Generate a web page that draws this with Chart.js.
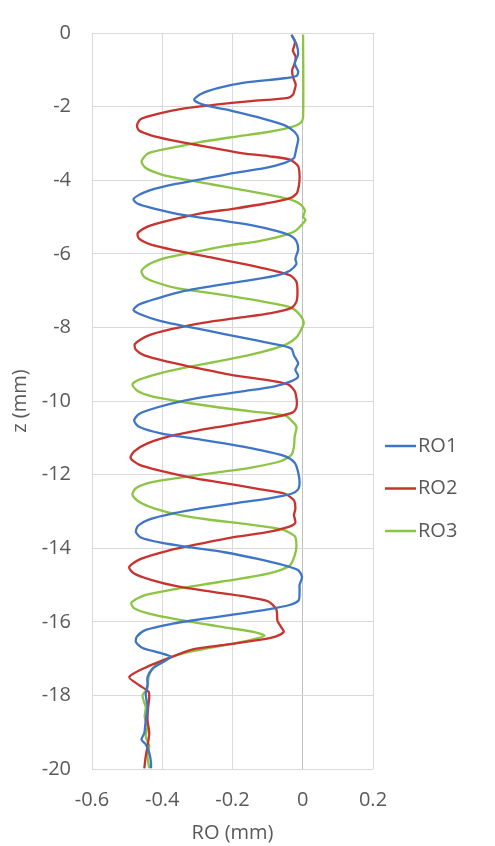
<!DOCTYPE html>
<html>
<head>
<meta charset="utf-8">
<script src="https://cdn.jsdelivr.net/npm/chart.js@4.4.1/dist/chart.umd.min.js"></script>
<style>
  html, body { margin: 0; padding: 0; background: #fff; }
  #wrap { width: 495px; height: 846px; }
</style>
</head>
<body>
<div id="wrap"><canvas id="myChart" width="495" height="846"></canvas></div>
<script>
// series names
var seriesNames = ['RO1', 'RO2', 'RO3'];

// axis ticks
var xTicks = [-0.6, -0.4, -0.2, 0, 0.2];
var yTicks = [0, -2, -4, -6, -8, -10, -12, -14, -16, -18, -20];

// RO1: depth z (mm) and RO (mm)
var ro1Z = [-0.05, -0.30, -0.57, -0.83, -1.05, -1.17, -1.23, -1.35, -1.50, -1.66, -1.81, -1.91, -2.00, -2.07, -2.20, -2.34, -2.51, -2.69, -2.87, -3.13,
  -3.35, -3.40, -3.53, -3.67, -3.80, -3.98, -4.15, -4.33, -4.51, -4.64, -4.77, -4.95, -5.08, -5.22, -5.39, -5.52, -5.66, -5.88, -6.14, -6.28,
  -6.46, -6.58, -6.70, -6.85, -7.01, -7.21, -7.38, -7.52, -7.65, -7.83, -8.00, -8.18, -8.36, -8.49, -8.58, -8.76, -8.98, -9.15, -9.33, -9.46,
  -9.60, -9.73, -9.86, -9.99, -10.17, -10.35, -10.53, -10.70, -10.88, -11.01, -11.15, -11.32, -11.50, -11.68, -11.94, -12.23, -12.40, -12.52, -12.65, -12.78,
  -12.92, -13.05, -13.23, -13.39, -13.56, -13.71, -13.85, -13.98, -14.11, -14.29, -14.47, -14.60, -14.78, -15.00, -15.18, -15.42, -15.55, -15.66, -15.80, -15.93,
  -16.05, -16.22, -16.40, -16.55, -16.71, -16.84, -16.95, -17.10, -17.28, -17.50, -17.70, -17.96, -18.32, -18.67, -19.02, -19.20, -19.33, -19.56, -19.82, -19.98];
var ro1X = [-0.032, -0.018, -0.013, -0.023, -0.013, -0.018, -0.051, -0.166, -0.242, -0.290, -0.309, -0.294, -0.261, -0.223, -0.166, -0.109, -0.051, -0.023, -0.013, -0.018,
  -0.023, -0.025, -0.051, -0.109, -0.194, -0.290, -0.385, -0.451, -0.482, -0.470, -0.423, -0.337, -0.242, -0.147, -0.070, -0.032, -0.018, -0.013, -0.021, -0.018,
  -0.037, -0.070, -0.140, -0.242, -0.337, -0.413, -0.466, -0.482, -0.461, -0.404, -0.318, -0.223, -0.128, -0.061, -0.032, -0.025, -0.013, -0.021, -0.013, -0.032,
  -0.080, -0.166, -0.261, -0.337, -0.413, -0.466, -0.480, -0.466, -0.404, -0.318, -0.223, -0.128, -0.051, -0.023, -0.013, -0.009, -0.013, -0.032, -0.099, -0.194,
  -0.290, -0.366, -0.440, -0.469, -0.475, -0.461, -0.404, -0.318, -0.223, -0.128, -0.051, -0.013, -0.002, -0.009, -0.009, -0.012, -0.040, -0.099, -0.194, -0.290,
  -0.370, -0.447, -0.472, -0.475, -0.456, -0.409, -0.375, -0.399, -0.428, -0.442, -0.442, -0.447, -0.442, -0.447, -0.451, -0.459, -0.447, -0.437, -0.432, -0.432];

// RO2
var ro2Z = [-0.05, -0.25, -0.48, -0.65, -0.83, -1.00, -1.19, -1.40, -1.54, -1.68, -1.76, -1.85, -1.94, -2.05, -2.20, -2.34, -2.51, -2.65, -2.78, -2.91,
  -3.03, -3.15, -3.27, -3.35, -3.44, -3.62, -3.89, -4.15, -4.37, -4.51, -4.64, -4.77, -4.90, -5.08, -5.26, -5.44, -5.59, -5.75, -5.92, -6.10,
  -6.28, -6.44, -6.59, -6.76, -7.03, -7.30, -7.47, -7.61, -7.74, -7.87, -8.05, -8.23, -8.45, -8.61, -8.76, -8.93, -9.11, -9.29, -9.42, -9.55,
  -9.73, -9.99, -10.17, -10.31, -10.44, -10.60, -10.75, -10.93, -11.15, -11.37, -11.55, -11.73, -11.90, -12.08, -12.23, -12.39, -12.52, -12.70, -12.93, -13.10,
  -13.31, -13.42, -13.58, -13.71, -13.89, -14.07, -14.29, -14.51, -14.69, -14.86, -15.04, -15.18, -15.31, -15.44, -15.67, -15.97, -16.15, -16.27, -16.41, -16.49,
  -16.62, -16.75, -17.02, -17.24, -17.50, -17.72, -17.90, -18.05, -18.32, -18.67, -19.02, -19.38, -19.65, -19.98];
var ro2X = [-0.032, -0.022, -0.028, -0.020, -0.023, -0.030, -0.028, -0.020, -0.023, -0.028, -0.042, -0.147, -0.242, -0.337, -0.413, -0.461, -0.472, -0.466, -0.432, -0.375,
  -0.309, -0.242, -0.170, -0.095, -0.037, -0.013, -0.009, -0.011, -0.018, -0.042, -0.109, -0.194, -0.290, -0.375, -0.442, -0.470, -0.466, -0.432, -0.356, -0.261,
  -0.166, -0.090, -0.035, -0.018, -0.015, -0.018, -0.032, -0.090, -0.185, -0.280, -0.375, -0.442, -0.478, -0.475, -0.451, -0.385, -0.299, -0.204, -0.109, -0.042,
  -0.023, -0.017, -0.018, -0.028, -0.080, -0.175, -0.270, -0.366, -0.442, -0.480, -0.490, -0.466, -0.404, -0.318, -0.223, -0.128, -0.051, -0.025, -0.021, -0.025,
  -0.021, -0.040, -0.109, -0.204, -0.299, -0.385, -0.461, -0.494, -0.480, -0.432, -0.356, -0.261, -0.166, -0.099, -0.075, -0.072, -0.061, -0.054, -0.080, -0.123,
  -0.218, -0.313, -0.390, -0.447, -0.494, -0.466, -0.439, -0.437, -0.440, -0.442, -0.437, -0.442, -0.447, -0.451];

// RO3
var ro3Z = [-0.05, -2.29, -2.44, -2.56, -2.69, -2.82, -2.96, -3.09, -3.27, -3.49, -3.67, -3.84, -3.98, -4.11, -4.24, -4.37, -4.51, -4.64, -4.82, -5.00,
  -5.08, -5.22, -5.39, -5.52, -5.66, -5.79, -5.97, -6.10, -6.28, -6.46, -6.62, -6.76, -6.94, -7.07, -7.21, -7.34, -7.47, -7.65, -7.87, -8.05,
  -8.27, -8.46, -8.67, -8.89, -9.06, -9.24, -9.42, -9.55, -9.73, -9.87, -10.00, -10.17, -10.28, -10.39, -10.53, -10.70, -10.97, -11.24, -11.46, -11.63,
  -11.81, -11.94, -12.08, -12.21, -12.37, -12.55, -12.74, -12.92, -13.09, -13.22, -13.36, -13.49, -13.67, -13.94, -14.20, -14.47, -14.67, -14.84, -14.98, -15.13,
  -15.28, -15.48, -15.63, -15.79, -15.97, -16.15, -16.28, -16.38, -16.50, -16.60, -16.71, -16.84, -16.97, -17.10, -17.28, -17.50, -17.81, -17.99, -18.14, -18.32,
  -18.58, -18.85, -19.12, -19.38, -19.65, -19.98];
var ro3X = [0.001, 0.001, -0.006, -0.032, -0.099, -0.194, -0.290, -0.356, -0.440, -0.459, -0.447, -0.404, -0.337, -0.261, -0.185, -0.109, -0.042, -0.009, 0.006, 0.001,
  0.008, -0.004, -0.023, -0.061, -0.128, -0.223, -0.318, -0.385, -0.437, -0.459, -0.452, -0.423, -0.356, -0.261, -0.166, -0.090, -0.032, -0.009, 0.003, -0.004,
  -0.018, -0.047, -0.118, -0.223, -0.318, -0.404, -0.466, -0.485, -0.470, -0.432, -0.360, -0.242, -0.147, -0.051, -0.032, -0.018, -0.023, -0.025, -0.032, -0.061,
  -0.147, -0.242, -0.347, -0.432, -0.475, -0.485, -0.466, -0.423, -0.356, -0.270, -0.150, -0.060, -0.023, -0.018, -0.023, -0.037, -0.090, -0.185, -0.280, -0.375,
  -0.451, -0.488, -0.480, -0.432, -0.337, -0.223, -0.137, -0.109, -0.150, -0.200, -0.266, -0.332, -0.380, -0.409, -0.428, -0.439, -0.442, -0.456, -0.453, -0.447,
  -0.450, -0.442, -0.447, -0.437, -0.442, -0.437];

var colors = ['#3f75c6', '#c8322f', '#8cc443'];
var textColor = '#595959';
var fontFamily = '"Open Sans", "Noto Sans", sans-serif';

function toPoints(zs, xs) {
    var pts = [];
    for (var i = 0; i < zs.length; i++) {
        pts.push({ x: xs[i], y: zs[i] });
    }
    return pts;
}

// legend drawn to the right of the plot, like the spreadsheet one
var sideLegend = {
    id: 'sideLegend',
    afterDraw: function (chart) {
        var c = chart.ctx;
        c.save();
        c.font = '20px ' + fontFamily;
        c.textBaseline = 'middle';
        c.textAlign = 'left';
        var rowY = [446, 488.5, 531];
        for (var i = 0; i < seriesNames.length; i++) {
            c.strokeStyle = colors[i];
            c.lineWidth = 2.5;
            c.beginPath();
            c.moveTo(385, rowY[i]);
            c.lineTo(416, rowY[i]);
            c.stroke();
            c.fillStyle = textColor;
            c.fillText(seriesNames[i], 418, rowY[i]);
        }
        c.restore();
    }
};

var ctx = document.getElementById('myChart').getContext('2d');
var chart = new Chart(ctx, {
    type: 'scatter',
    data: {
        datasets: [
            { label: seriesNames[0], data: toPoints(ro1Z, ro1X), borderColor: colors[0] },
            { label: seriesNames[1], data: toPoints(ro2Z, ro2X), borderColor: colors[1] },
            { label: seriesNames[2], data: toPoints(ro3Z, ro3X), borderColor: colors[2] }
        ]
    },
    options: {
        responsive: false,
        maintainAspectRatio: false,
        animation: false,
        showLine: true,
        elements: {
            point: { radius: 0 },
            line: { borderWidth: 2.3, tension: 0.25, fill: false }
        },
        layout: {
            padding: { top: 16, right: 122, left: 0, bottom: 0 }
        },
        plugins: {
            legend: { display: false },
            tooltip: { enabled: false }
        },
        scales: {
            x: {
                type: 'linear',
                min: -0.6,
                max: 0.2,
                afterBuildTicks: function (s) { s.ticks = xTicks.map(function (v) { return { value: v }; }); },
                afterFit: function (s) { s.height = 77; },
                border: { display: false },
                grid: {
                    drawTicks: false,
                    lineWidth: 1,
                    color: function (c) { return c.tick && c.tick.value === 0 ? '#bfbfbf' : '#d9d9d9'; }
                },
                ticks: {
                    padding: 19,
                    color: textColor,
                    font: { family: fontFamily, size: 20 },
                    callback: function (v) { return String(Math.round(v * 10) / 10); }
                },
                title: {
                    display: true,
                    text: 'RO (mm)',
                    color: textColor,
                    font: { family: fontFamily, size: 20 },
                    padding: { top: 0, bottom: 1 }
                }
            },
            y: {
                type: 'linear',
                min: -20,
                max: 0,
                afterBuildTicks: function (s) { s.ticks = yTicks.map(function (v) { return { value: v }; }); },
                afterFit: function (s) { s.width = 92; },
                border: { display: false },
                grid: { drawTicks: false, lineWidth: 1, color: '#d9d9d9' },
                ticks: {
                    padding: 21,
                    color: textColor,
                    font: { family: fontFamily, size: 20 }
                },
                title: {
                    display: true,
                    text: 'z (mm)',
                    color: textColor,
                    font: { family: fontFamily, size: 20 },
                    padding: { top: 8, bottom: 0 }
                }
            }
        }
    },
    plugins: [sideLegend]
});
</script>
</body>
</html>
